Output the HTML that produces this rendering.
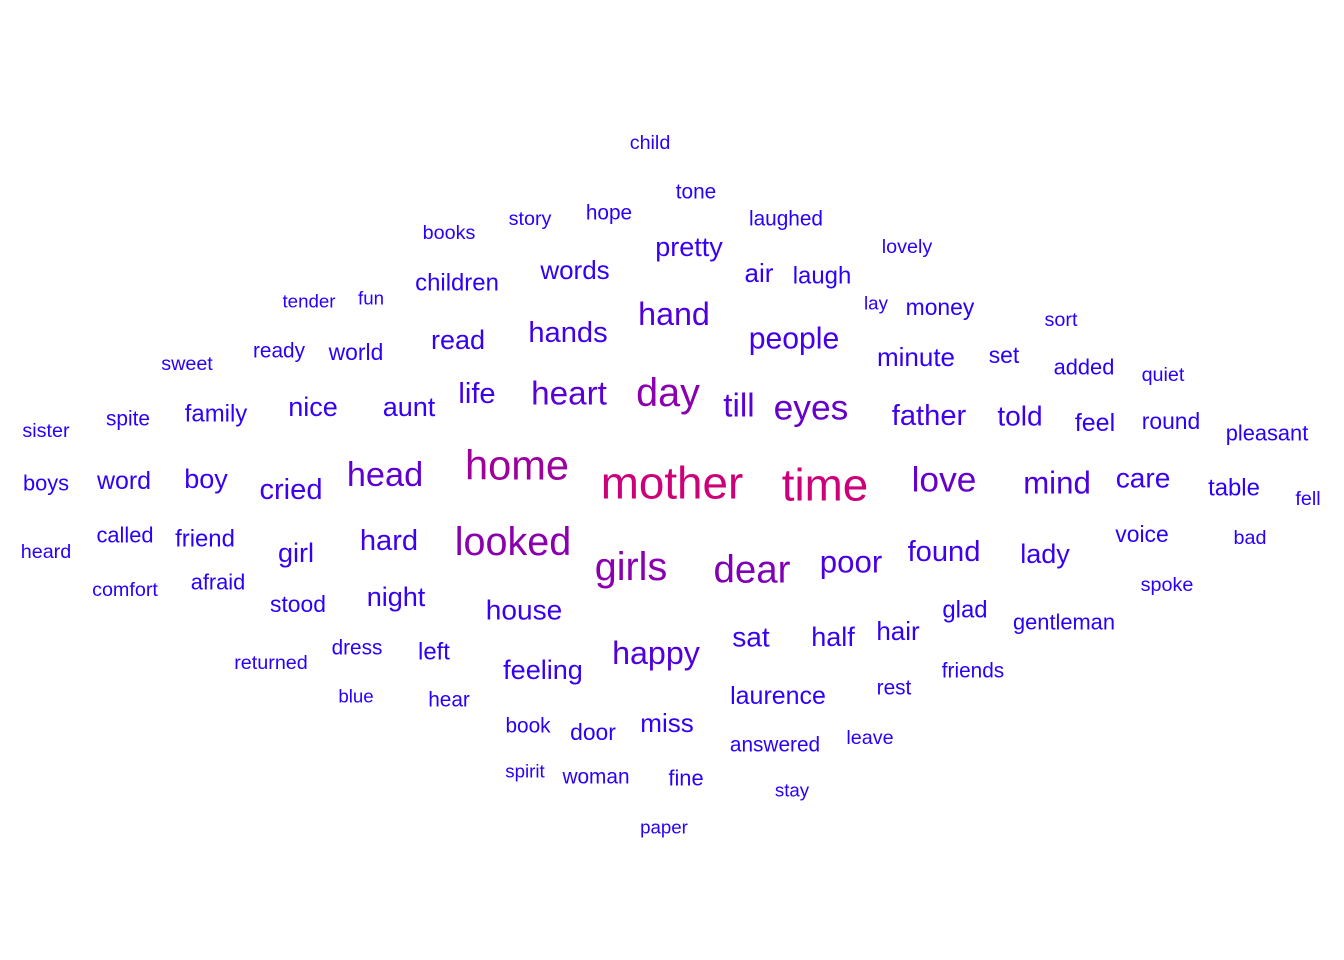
<!DOCTYPE html>
<html><head><meta charset="utf-8"><style>
html,body{margin:0;padding:0;background:#fff;}
svg{display:block;}
text{font-family:"Liberation Sans",Arial,sans-serif;}
</style></head><body>
<svg id="cloud" width="1344" height="960" viewBox="0 0 1344 960" xmlns="http://www.w3.org/2000/svg"></svg>
<script>
const words = ["child","tone","books","story","hope","laughed","pretty","lovely","words","air","laugh","children","tender","fun","lay","money","sort","hand","hands","people","read","ready","world","sweet","minute","set","added","quiet","day","heart","life","till","eyes","aunt","nice","family","spite","sister","father","told","feel","round","pleasant","home","mother","time","love","mind","care","table","fell","boys","word","boy","cried","head","looked","girls","dear","poor","found","lady","voice","bad","heard","called","friend","girl","hard","afraid","comfort","stood","night","house","spoke","glad","gentleman","sat","half","hair","happy","feeling","dress","left","returned","friends","rest","laurence","blue","hear","book","door","miss","answered","leave","spirit","woman","fine","stay","paper"];
const freqs = [19,20,19,19,20,20,26,19,25,25,23,23,18,18,18,22,19,31,28,29,26,20,22,19,25,22,21,19,38,32,28,32,34,26,26,23,20,19,28,27,24,22,21,40,44,44,34,30,27,23,19,21,24,26,28,33,38,38,37,30,28,26,22,19,19,21,23,26,28,21,19,22,26,27,19,23,21,27,26,25,31,26,20,23,19,20,20,24,18,20,20,22,25,20,19,18,20,21,18,18];
const layoutX = [650,696,449,530,609,786,689,907,575,759,822,457,309,371,876,940,1061,674,568,794,458,279,356,187,916,1004,1084,1163,668,569,477,739,811,409,313,216,128,46,929,1020,1095,1171,1267,517,672,825,944,1057,1143,1234,1308,46,124,206,291,385,513,631,752,851,944,1045,1142,1250,46,125,205,296,389,218,125,298,396,524,1167,965,1064,751,833,898,656,543,357,434,271,973,894,778,356,449,528,593,667,775,870,525,596,686,792,664];
const layoutY = [143,192,233,219,213,219,247,247,270,273,276,283,301,298,303,307,320,314,333,339,340,351,352,364,357,355,367,375,393,394,394,406,408,407,407,414,419,431,416,416,423,421,433,465,483,485,480,483,478,488,499,483,481,479,490,475,542,567,570,562,552,554,534,538,552,535,539,553,541,582,590,604,597,610,585,610,622,637,637,631,653,670,648,652,663,671,688,696,696,700,726,732,723,745,738,771,777,778,790,827];
const svg = document.getElementById('cloud');
const NS = 'http://www.w3.org/2000/svg';
function sizeScale(f){ return f * 1.04; }
function colorScale(f){
  let t = Math.max(0, Math.min(1, (f - 20) / 24));
  t = Math.pow(t, 1.8);
  const r = Math.round(40 + (204 - 40) * t);
  const b = Math.round(255 + (120 - 255) * t);
  return 'rgb(' + r + ',0,' + b + ')';
}
for (let i = 0; i < words.length; i++) {
  const t = document.createElementNS(NS, 'text');
  t.setAttribute('x', layoutX[i]);
  t.setAttribute('y', layoutY[i]);
  t.setAttribute('text-anchor', 'middle');
  t.setAttribute('dominant-baseline', 'central');
  t.setAttribute('font-size', sizeScale(freqs[i]));
  t.setAttribute('fill', colorScale(freqs[i]));
  
  
  t.textContent = words[i];
  svg.appendChild(t);
}
</script>
</body></html>
